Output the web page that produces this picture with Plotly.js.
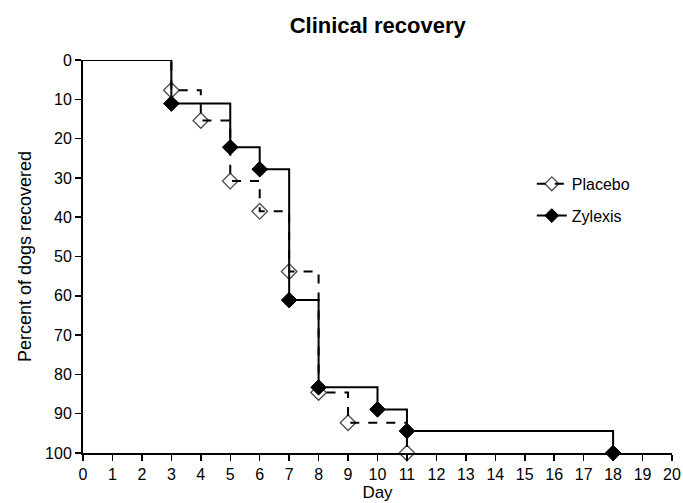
<!DOCTYPE html>
<html>
<head>
<meta charset="utf-8">
<script src="https://cdn.plot.ly/plotly-3.0.1.min.js"></script>
<style>html,body{margin:0;padding:0;background:#fff;}#chart{width:683px;height:503px;}</style>
</head>
<body>
<div id="chart"></div>
<script>
// Day of recovery and cumulative percent of dogs recovered
const placeboDays = [0, 3, 4, 5, 6, 7, 8, 9, 11];
const placeboPct  = [0, 7.7, 15.4, 30.8, 38.5, 53.8, 84.6, 92.3, 100];
const zylexisDays = [0, 3, 5, 6, 7, 8, 10, 11, 18];
const zylexisPct  = [0, 11.1, 22.2, 27.8, 61.1, 83.3, 88.9, 94.4, 100];
const xTicks = [0,1,2,3,4,5,6,7,8,9,10,11,12,13,14,15,16,17,18,19,20];
const yTicks = [0,10,20,30,40,50,60,70,80,90,100];

const font = "Liberation Sans, Arial, sans-serif";
const markerSizes = arr => arr.map((v, i) => i === 0 ? 0 : 12);

const traces = [
  {
    x: placeboDays, y: placeboPct, name: 'Placebo', type: 'scatter', mode: 'lines+markers',
    legendgroup: 'p',
    line: {shape: 'hv', dash: 'dash', color: '#000', width: 2},
    marker: {symbol: 'diamond-open', size: markerSizes(placeboDays), color: '#000', line: {width: 1.3, color: '#000'}},
    cliponaxis: false
  },
  {
    x: zylexisDays, y: zylexisPct, name: 'Zylexis', type: 'scatter', mode: 'lines+markers',
    legendgroup: 'z',
    line: {shape: 'hv', color: '#000', width: 2},
    marker: {symbol: 'diamond', size: markerSizes(zylexisDays), color: '#000', opacity: 1, line: {width: 1, color: '#000'}},
    cliponaxis: false
  }
];

const layout = {
  width: 683, height: 503,
  margin: {l: 83, r: 11, t: 60, b: 50},
  paper_bgcolor: '#fff', plot_bgcolor: '#fff',
  font: {family: font, size: 16, color: '#000'},
  title: {text: '<b>Clinical recovery</b>', x: 0.553, xanchor: 'center', y: 0.95, yanchor: 'middle', font: {family: font, size: 22, color: '#000'}},
  xaxis: {
    range: [0, 20], tickvals: xTicks, ticktext: xTicks.map(String),
    showgrid: false, zeroline: false, showline: true, linecolor: '#000', linewidth: 2,
    ticks: 'outside', ticklen: 6, tickwidth: 1.5, tickcolor: '#000',
    tickfont: {family: font, size: 16, color: '#000'},
    title: {text: 'Day', font: {family: font, size: 17, color: '#000'}, standoff: 2}
  },
  yaxis: {
    range: [100, 0], tickvals: yTicks, ticktext: yTicks.map(String),
    showgrid: false, zeroline: false, showline: true, linecolor: '#000', linewidth: 2,
    ticks: 'outside', ticklen: 6, tickwidth: 1.5, tickcolor: '#000',
    tickfont: {family: font, size: 16, color: '#000'},
    title: {text: 'Percent of dogs recovered', font: {family: font, size: 18, color: '#000'}, standoff: 9}
  },
  showlegend: true,
  legend: {x: 0.762, y: 0.728, xanchor: 'left', yanchor: 'top', bgcolor: 'rgba(0,0,0,0)',
           traceorder: 'grouped', tracegroupgap: 8,
           font: {family: font, size: 16, color: '#000'}, itemwidth: 30}
};

Plotly.newPlot('chart', traces, layout, {displayModeBar: false, staticPlot: true});
</script>
</body>
</html>
